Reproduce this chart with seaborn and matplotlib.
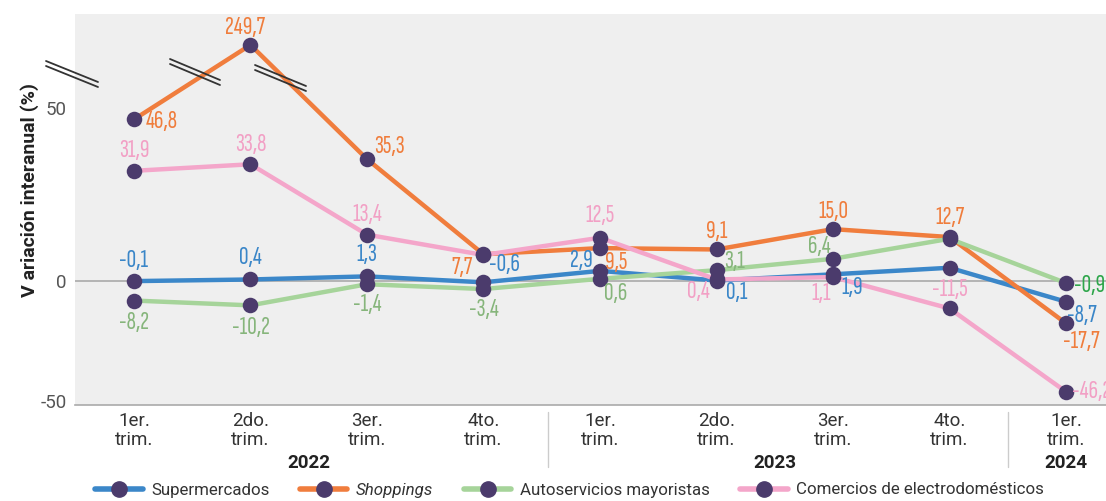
import numpy as np
import pandas as pd
import seaborn as sns
import matplotlib.pyplot as plt
from matplotlib.lines import Line2D
from matplotlib import transforms

# --- data ---
quarters = ["1er.\ntrim.", "2do.\ntrim.", "3er.\ntrim.", "4to.\ntrim.",
            "1er.\ntrim.", "2do.\ntrim.", "3er.\ntrim.", "4to.\ntrim.",
            "1er.\ntrim."]
years = ["2022", "2023", "2024"]
year_pos = [1.5, 5.5, 8]

supermercados = [-0.1, 0.4, 1.3, -0.6, 2.9, 0.1, 1.9, 3.8, -8.7]
shoppings = [46.8, 249.7, 35.3, 7.7, 9.5, 9.1, 15.0, 12.7, -17.7]
autoservicios = [-8.2, -10.2, -1.4, -3.4, 0.6, 3.1, 6.4, 12.2, -0.9]
electro = [31.9, 33.8, 13.4, 7.5, 12.5, 0.4, 1.1, -11.5, -46.2]

series_names = ["Supermercados", "Shoppings", "Autoservicios mayoristas",
                "Comercios de electrodomésticos"]

# --- styles ---
line_colors = ["#3b87c9", "#f07d3d", "#a6d49a", "#f4a6ca"]
text_colors = ["#3a86c8", "#ef7d3c", "#86b57b", "#f2a0c5"]
dot = "#4b3b6c"
draw_order = [2, 1, 0, 3]

# label offsets in px (dx, dy); None = no label; 'L' prefix = left aligned
offsets = [
    [(0, 21), (0, 22), (0, 22), (21, 18), (-19, 10), (20, -12), (19, -13), None, (16, -14)],
    [("L", 12, -2), (-5, 17), (22, 13), (-21, -13), (16, -14), (0, 18), (0, 18), (0, 20), (15, -18)],
    [(0, -22), (0, -22), (0, -20), (0, -20), (16, -15), (18, 9), (-14, 12), None, ("L", 8, -2)],
    [(0, 20), (0, 20), (0, 20), None, (0, 22), (-18, -12), (-12, -16), (0, 19), ("L", 6, 0)],
]

# broken axis: compress negatives and values above 55
NEG, BRK, TOP = 0.696, 55.0, 0.0688


def fwd(y):
    y = np.asarray(y, dtype=float)
    return np.where(y < 0, y * NEG, np.where(y > BRK, BRK + (y - BRK) * TOP, y))


def inv(y):
    y = np.asarray(y, dtype=float)
    return np.where(y < 0, y / NEG, np.where(y > BRK, BRK + (y - BRK) / TOP, y))


values = [supermercados, shoppings, autoservicios, electro]
df = pd.DataFrame({
    "x": np.tile(np.arange(len(quarters)), len(series_names)),
    "serie": np.repeat(series_names, len(quarters)),
    "valor": np.concatenate(values),
})

sns.set_style("white")
plt.rcParams["font.family"] = ["Roboto", "DejaVu Sans"]
label_font = ["Sofia Sans Extra Condensed", "DejaVu Sans"]

W, H = 1106, 501
fig = plt.figure(figsize=(W / 100, H / 100), dpi=100)
ax = fig.add_axes([75 / W, 1 - 405 / H, (W - 75) / W, (405 - 14) / H])
ax.set_facecolor("#efefef")

ax.set_yscale("function", functions=(fwd, inv))
ax.set_ylim(-51.7, 380)
ax.set_xlim(-0.506, 8.343)

ax.axhline(0, color="#aaaaaa", lw=1.2, zorder=1)

for i in draw_order:
    sub = df[df["serie"] == series_names[i]]
    sns.lineplot(data=sub, x="x", y="valor", color=line_colors[i], lw=3.2,
                 ax=ax, legend=False, zorder=2 + i * 0.1)

sns.scatterplot(data=df, x="x", y="valor", color=dot, s=125, edgecolor=dot,
                linewidth=0, ax=ax, legend=False, zorder=5)

for i, vals in enumerate(values):
    for j, v in enumerate(vals):
        off = offsets[i][j]
        if off is None:
            continue
        col = text_colors[i]
        if i == 2 and j == 8:
            col = "#2ea64b"
        ha = "center"
        if off[0] == "L":
            ha = "left"
            off = off[1:]
        ax.annotate(f"{v:.1f}".replace(".", ","), (j, v),
                    xytext=(off[0] * 0.72, off[1] * 0.72), textcoords="offset points",
                    ha=ha, va="center", color=col, fontsize=19,
                    family=label_font, zorder=6, annotation_clip=False)

# axes cosmetics
for s in ["top", "right", "left"]:
    ax.spines[s].set_visible(False)
ax.spines["bottom"].set_color("#aaaaaa")
ax.spines["bottom"].set_linewidth(1.2)

ax.set_xticks(range(len(quarters)), quarters)
ax.set_yticks([-50, 0, 50], ["-50", "0", "50"])
ax.tick_params(axis="both", length=0, labelsize=13.5, labelcolor="#333333")
ax.tick_params(axis="x", pad=5)
ax.tick_params(axis="y", pad=6, labelcolor="#555555")
for t in ax.get_xticklabels():
    t.set_linespacing(1.05)
ax.set_xlabel("")
ax.set_ylabel("V ariación interanual (%)", fontsize=14, fontweight="bold", color="#222222")
ax.yaxis.set_label_coords(-0.035, 0.55)

trans = transforms.blended_transform_factory(ax.transData, ax.transAxes)
for yr, xp in zip(years, year_pos):
    ax.text(xp, -0.148, yr, transform=trans, ha="center", va="center",
            fontsize=13.5, fontweight="bold", color="#222222")
for xs in [3.55, 7.5]:
    ax.plot([xs, xs], [-0.018, -0.159], transform=trans, color="#cccccc",
            lw=1, clip_on=False)

# break marks (figure pixels)
for (x0, y0, x1, y1) in [(46, 61, 98, 82), (170, 59, 220, 80), (255, 65, 306, 86)]:
    for d in (0, 5):
        fig.add_artist(Line2D([x0 / W, x1 / W], [1 - (y0 + d) / H, 1 - (y1 + d) / H],
                              color="#333333", lw=1.3, transform=fig.transFigure))

handles = [Line2D([], [], color=c, lw=4, marker="o", ms=11,
                  markerfacecolor=dot, markeredgecolor=dot) for c in line_colors]
leg = fig.legend(handles, series_names, loc="center", bbox_to_anchor=(0.515, 1 - 490 / H),
                 ncol=4, frameon=False, fontsize=12.2, handlelength=2.8,
                 handletextpad=0.5, columnspacing=1.8)
leg.get_texts()[1].set_fontstyle("italic")
for t in leg.get_texts():
    t.set_color("#333333")

fig.savefig("out.png", dpi=100)
